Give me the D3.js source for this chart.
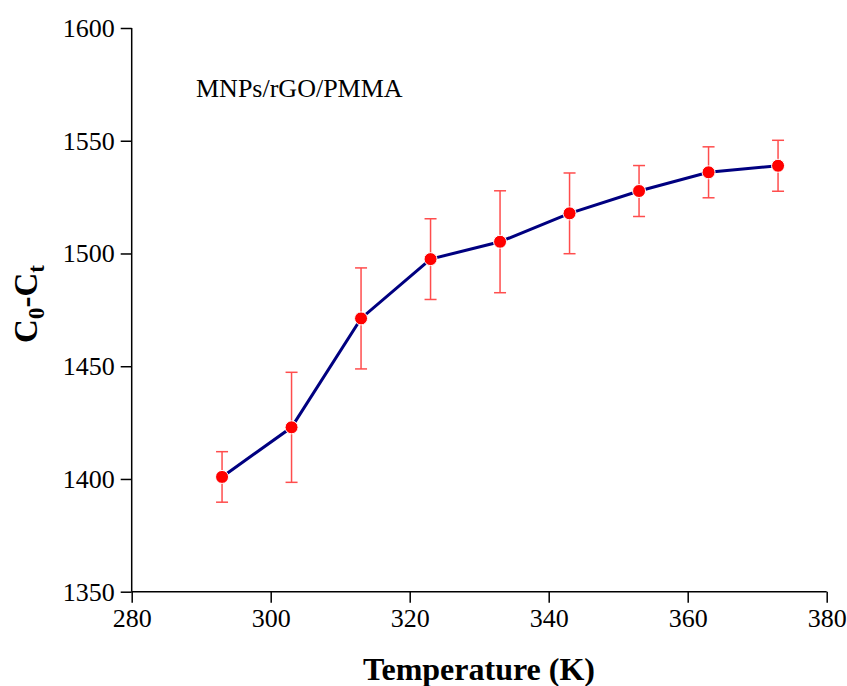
<!DOCTYPE html>
<html lang="en">
<head>
<meta charset="UTF-8">
<title>MNPs/rGO/PMMA</title>
<script src="https://d3js.org/d3.v7.min.js"></script>
<style>
  body { margin: 0; background: #fff; }
  text { font-family: "Liberation Serif", "Times New Roman", serif; }
</style>
</head>
<body>
<script>
    // data
    const temperature = [293, 303, 313, 323, 333, 343, 353, 363, 373];
    const values = [1400.9, 1422.9, 1471.2, 1497.5, 1505.2, 1517.8, 1527.7, 1536.0, 1538.9];
    const errors = [11.2, 24.4, 22.4, 17.9, 22.6, 17.9, 11.3, 11.3, 11.3];
    const xTicks = [280, 300, 320, 340, 360, 380];
    const yTicks = [1350, 1400, 1450, 1500, 1550, 1600];

    const width = 847, height = 686;
    const margin = { left: 131.7, right: 20, top: 28, bottom: 94.3 };

    const svg = d3.select("body").append("svg")
        .attr("width", width)
        .attr("height", height);

    const x = d3.scaleLinear().domain([280, 380]).range([margin.left, 826.7]);
    const y = d3.scaleLinear().domain([1350, 1600]).range([591.7, margin.top]);

    // axes
    const xAxis = svg.append("g")
        .attr("transform", "translate(0," + y(1350) + ")")
        .call(d3.axisBottom(x).tickValues(xTicks).tickSize(11).tickPadding(6).tickFormat(d3.format("d")));
    const yAxis = svg.append("g")
        .attr("transform", "translate(" + x(280) + ",0)")
        .call(d3.axisLeft(y).tickValues(yTicks).tickSize(11).tickPadding(6).tickFormat(d3.format("d")));

    [xAxis, yAxis].forEach(g => {
        g.select(".domain").attr("stroke", "#000").attr("stroke-width", 1.5);
        g.selectAll(".tick line").attr("stroke", "#000").attr("stroke-width", 1.5);
        g.selectAll(".tick text")
            .attr("font-family", "Liberation Serif")
            .attr("font-size", 26)
            .attr("fill", "#000");
    });
    // remove the outer tick ends of the domain path
    xAxis.select(".domain").attr("d", "M" + x(280) + ",0H" + x(380));
    yAxis.select(".domain").attr("d", "M0," + y(1350) + "V" + y(1600));

    const data = temperature.map((t, i) => ({ t: t, v: values[i], e: errors[i] }));

    // error bars
    const eb = svg.append("g").attr("stroke", "#ff4d4d").attr("stroke-width", 1.5);
    data.forEach(d => {
        eb.append("line")
            .attr("x1", x(d.t)).attr("x2", x(d.t))
            .attr("y1", y(d.v - d.e)).attr("y2", y(d.v + d.e));
        [d.v - d.e, d.v + d.e].forEach(c => {
            eb.append("line")
                .attr("x1", x(d.t) - 6).attr("x2", x(d.t) + 6)
                .attr("y1", y(c)).attr("y2", y(c));
        });
    });

    // line
    const line = d3.line().x(d => x(d.t)).y(d => y(d.v));
    svg.append("path")
        .datum(data)
        .attr("d", line)
        .attr("fill", "none")
        .attr("stroke", "#000080")
        .attr("stroke-width", 3);

    // points
    svg.selectAll("circle.pt")
        .data(data)
        .enter()
        .append("circle")
        .attr("class", "pt")
        .attr("cx", d => x(d.t))
        .attr("cy", d => y(d.v))
        .attr("r", 6.5)
        .attr("fill", "#ff0000")
        .attr("stroke", "#fff")
        .attr("stroke-width", 1);

    // label inside the plot
    svg.append("text")
        .attr("x", 196)
        .attr("y", 97)
        .attr("font-size", 26)
        .text("MNPs/rGO/PMMA");

    // axis titles
    svg.append("text")
        .attr("x", 479)
        .attr("y", 680)
        .attr("text-anchor", "middle")
        .attr("font-size", 32)
        .attr("font-weight", "bold")
        .text("Temperature (K)");

    const yTitle = svg.append("text")
        .attr("transform", "translate(37,304) rotate(-90)")
        .attr("text-anchor", "middle")
        .attr("font-size", 33)
        .attr("font-weight", "bold");
    yTitle.append("tspan").text("C");
    yTitle.append("tspan").attr("font-size", 23).attr("dy", 7).text("0");
    yTitle.append("tspan").attr("dy", -7).text("-C");
    yTitle.append("tspan").attr("font-size", 23).attr("dy", 7).text("t");
</script>
</body>
</html>
